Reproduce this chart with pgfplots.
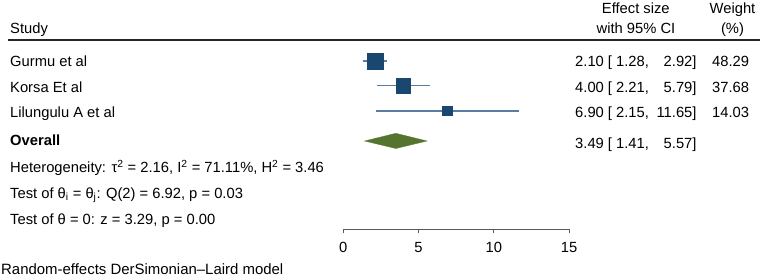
\documentclass[border=0pt]{standalone}
\usepackage{pgfplots}
\pgfplotsset{compat=1.18}
\usepackage{fontspec}
\setmainfont{Liberation Sans}
\definecolor{navyS}{RGB}{26,71,111}
\definecolor{ciS}{RGB}{90,125,162}
\definecolor{greenS}{RGB}{85,117,47}
\definecolor{axS}{RGB}{90,90,90}
\begin{document}
\fontsize{14.8}{17}\selectfont
\begin{tikzpicture}[x=1bp,y=1bp]
\path[use as bounding box] (0,0) rectangle (765,277);
\begin{axis}[
  at={(343.3bp,47.7bp)}, anchor=south west,
  scale only axis, width=225.7bp, height=229.3bp,
  xmin=0, xmax=15, ymin=0, ymax=229.3,
  axis x line*=bottom, hide y axis,
  xtick={0,5,10,15}, tick align=outside, major tick length=4bp,
  x axis line style={axS, line width=1bp},
  every tick/.style={axS, line width=1bp},
  xticklabel style={font=\fontsize{14.8}{17}\selectfont, text=black, yshift=-3.5bp},
  /pgf/number format/assume math mode=true,
  clip=false,
]
% confidence intervals
\addplot[ciS, line width=1.5bp, no marks] coordinates {(1.28,168.3) (2.92,168.3)};
\addplot[ciS, line width=1.5bp, no marks] coordinates {(2.21,143.6) (5.79,143.6)};
\addplot[ciS, line width=1.5bp, no marks] coordinates {(2.15,118.3) (11.65,118.3)};
% weighted point estimates
\addplot[only marks, mark=square*, mark size=8bp, navyS, mark options={draw=navyS, fill=navyS, line width=0.3bp}] coordinates {(2.10,168.3)};
\addplot[only marks, mark=square*, mark size=7.05bp, navyS, mark options={draw=navyS, fill=navyS, line width=0.3bp}] coordinates {(4.00,143.6)};
\addplot[only marks, mark=square*, mark size=4.6bp, navyS, mark options={draw=navyS, fill=navyS, line width=0.3bp}] coordinates {(6.90,118.3)};
% overall diamond
\addplot[fill=greenS, draw=greenS, line width=0.3bp] coordinates {(1.41,88.3) (3.49,96) (5.57,88.3) (3.49,80.8)} -- cycle;
\end{axis}
% headers
\node[anchor=base, inner sep=0] at (635.8,263.7) {Effect size};
\node[anchor=base, inner sep=0] at (636,243.2) {with 95\% CI};
\node[anchor=base, inner sep=0] at (732.5,263.7) {Weight};
\node[anchor=base, inner sep=0] at (732.5,243.2) {(\%)};
\node[anchor=base west, inner sep=0] at (10,243.7) {Study};
\draw[black!85, line width=1.2bp] (8,237) -- (760,237);
% study rows
\node[anchor=base west, inner sep=0] at (10,210.3) {Gurmu et al};
\node[anchor=base west, inner sep=0] at (10,184.7) {Korsa Et al};
\node[anchor=base west, inner sep=0] at (10,159.7) {Lilungulu A et al};
\node[anchor=base west, inner sep=0] at (10,131.3) {\bfseries Overall};
\node[anchor=base west, inner sep=0] at (575,210.3) {2.10 [ 1.28,};
\node[anchor=base east, inner sep=0] at (696.7,210.3) {2.92]};
\node[anchor=base west, inner sep=0] at (575,184.7) {4.00 [ 2.21,};
\node[anchor=base east, inner sep=0] at (696.7,184.7) {5.79]};
\node[anchor=base west, inner sep=0] at (575,159.7) {6.90 [ 2.15,};
\node[anchor=base east, inner sep=0] at (696.7,159.7) {11.65]};
\node[anchor=base west, inner sep=0] at (575,128.2) {3.49 [ 1.41,};
\node[anchor=base east, inner sep=0] at (696.7,128.2) {5.57]};
\node[anchor=base east, inner sep=0] at (749.3,210.3) {48.29};
\node[anchor=base east, inner sep=0] at (749.3,184.7) {37.68};
\node[anchor=base east, inner sep=0] at (749.3,159.7) {14.03};
% statistics
\node[anchor=base west, inner sep=0] at (10,104.5) {Heterogeneity: τ\textsuperscript{2} = 2.16, I\textsuperscript{2} = 71.11\%, H\textsuperscript{2} = 3.46};
\node[anchor=base west, inner sep=0] at (10,78.7) {Test of θ\textsubscript{i} = θ\textsubscript{j}: Q(2) = 6.92, p = 0.03};
\node[anchor=base west, inner sep=0] at (10,53) {Test of θ = 0: z = 3.29, p = 0.00};
\node[anchor=base west, inner sep=0, font=\fontsize{15}{17}\selectfont] at (1,3) {Random-effects DerSimonian–Laird model};
\end{tikzpicture}
\end{document}
